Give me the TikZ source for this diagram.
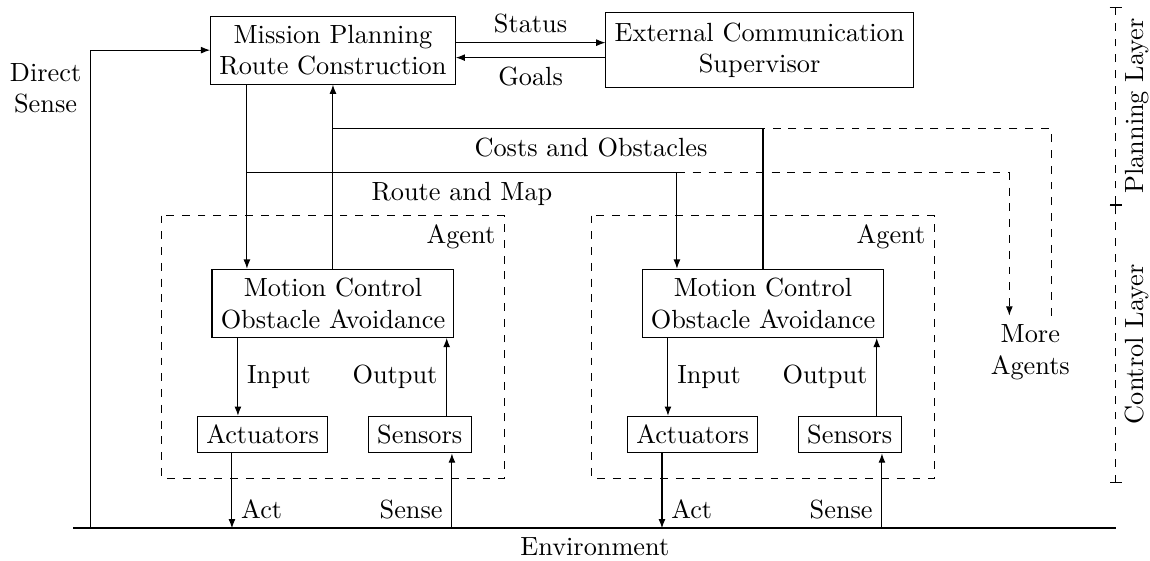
\documentclass[tikz,border=0pt]{standalone}
\usepackage{tikz}
\usetikzlibrary{arrows.meta, positioning, calc}

\begin{document}
\begin{tikzpicture}[
    block/.style={draw, rectangle, align=center},
    agentbox/.style={draw, dashed},
    arrow/.style={-{Latex[length=3.5pt]}},
    layerbar/.style={dashed, {Bar[width=4.5pt]}-{Bar[width=4.5pt]}}
  ]
    \useasboundingbox (0,0) rectangle (15.37,-7.49);

    % Nodes (planning)
    \node[block] (mission) at (4.45,-0.67) {Mission Planning\\Route Construction};
    \node[block, minimum height=1cm, right=2cm of mission] (supervisor) {External Communication\\Supervisor};

    % Nodes (agent 1)
    \node[block, below=2.46cm of mission] (motion1) {Motion Control\\Obstacle Avoidance};
    \node[block, below=1.04cm of motion1.south, xshift=-0.94cm] (act1) {Actuators};
    \node[block, below=1.04cm of motion1.south, xshift=1.16cm] (sens1) {Sensors};

    % Nodes (agent 2)
    \node[block, right=2.5cm of motion1] (motion2) {Motion Control\\Obstacle Avoidance};
    \node[block, below=1.04cm of motion2.south, xshift=-0.94cm] (act2) {Actuators};
    \node[block, below=1.04cm of motion2.south, xshift=1.16cm] (sens2) {Sensors};

    \node[align=center] (more) at (13.77,-4.71) {More\\Agents};

    % Agent frames
    \coordinate (a1nw) at ($(motion1.north west)+(-0.67,0.71)$);
    \coordinate (a1se) at ($(motion1.south east |- act1.south)+(0.67,-0.33)$);
    \draw[agentbox] (a1nw) rectangle (a1se);
    \node[below left] at (a1nw -| a1se) {Agent};

    \coordinate (a2nw) at ($(motion2.north west)+(-0.67,0.71)$);
    \coordinate (a2se) at ($(motion2.south east |- act2.south)+(0.67,-0.33)$);
    \draw[agentbox] (a2nw) rectangle (a2se);
    \node[below left] at (a2nw -| a2se) {Agent};

    % Environment
    \coordinate (envL) at (0.98,-7.06);
    \coordinate (envR) at (14.92,-7.06);
    \draw[thick] (envL) -- (envR) node[midway, below] {Environment};

    % Connections (planning)
    \draw[arrow] ([yshift=0.1cm]mission.east) -- ([yshift=0.1cm]supervisor.west) node[midway, above] {Status};
    \draw[arrow] ([yshift=-0.1cm]supervisor.west) -- ([yshift=-0.1cm]mission.east) node[midway, below] {Goals};
    \draw[arrow] ([xshift=0.23cm]envL) |- (mission.west) node[pos=0.46, left, align=center] {Direct\\Sense};

    % Route and map down to the agents
    \coordinate (routebus) at ([xshift=-1.15cm, yshift=-1.18cm]mission.south);
    \draw[arrow] ([xshift=-1.15cm]mission.south) -- ([xshift=-1.15cm]motion1.north);
    \draw[arrow] (routebus) -| ([xshift=-1.15cm]motion2.north) node[pos=0.25, below] {Route and Map};
    \draw[arrow, dashed] ([xshift=-1.15cm]motion2.north |- routebus) -| ([xshift=-0.28cm]more.north);

    % Costs and obstacles back up
    \coordinate (costbus) at ([yshift=-0.59cm]mission.south);
    \draw[arrow] (motion1.north) -- (mission.south);
    \draw (motion2.north) |- (costbus) node[pos=0.7, below] {Costs and Obstacles};
    \draw[dashed] ([xshift=0.28cm]more.north) |- (motion2.north |- costbus);

    % Connections (agent 1)
    \draw[arrow] ([xshift=-0.33cm]act1.north |- motion1.south) -- ([xshift=-0.33cm]act1.north) node[midway, right] {Input};
    \draw[arrow] ([xshift=0.36cm]sens1.north) -- ([xshift=0.36cm]sens1.north |- motion1.south) node[midway, left] {Output};
    \draw[arrow] ([xshift=-0.41cm]act1.south) -- ([xshift=-0.41cm]act1.south |- envL) node[pos=1, above right] {Act};
    \draw[arrow] ([xshift=0.43cm]sens1.south |- envL) -- ([xshift=0.43cm]sens1.south) node[pos=0, above left] {Sense};

    % Connections (agent 2)
    \draw[arrow] ([xshift=-0.33cm]act2.north |- motion2.south) -- ([xshift=-0.33cm]act2.north) node[midway, right] {Input};
    \draw[arrow] ([xshift=0.36cm]sens2.north) -- ([xshift=0.36cm]sens2.north |- motion2.south) node[midway, left] {Output};
    \draw[arrow] ([xshift=-0.41cm]act2.south) -- ([xshift=-0.41cm]act2.south |- envL) node[pos=1, above right] {Act};
    \draw[arrow] ([xshift=0.43cm]sens2.south |- envL) -- ([xshift=0.43cm]sens2.south) node[pos=0, above left] {Sense};

    % Layers
    \coordinate (layertop) at (14.91,-0.09);
    \coordinate (layermid) at (14.91,-2.74);
    \coordinate (layerbot) at (14.91,-6.46);
    \draw[layerbar] (layermid) -- (layertop) node[midway, rotate=90, anchor=north] {Planning Layer};
    \draw[layerbar] (layerbot) -- (layermid) node[midway, rotate=90, anchor=north] {Control Layer};

  \end{tikzpicture}
\end{document}
